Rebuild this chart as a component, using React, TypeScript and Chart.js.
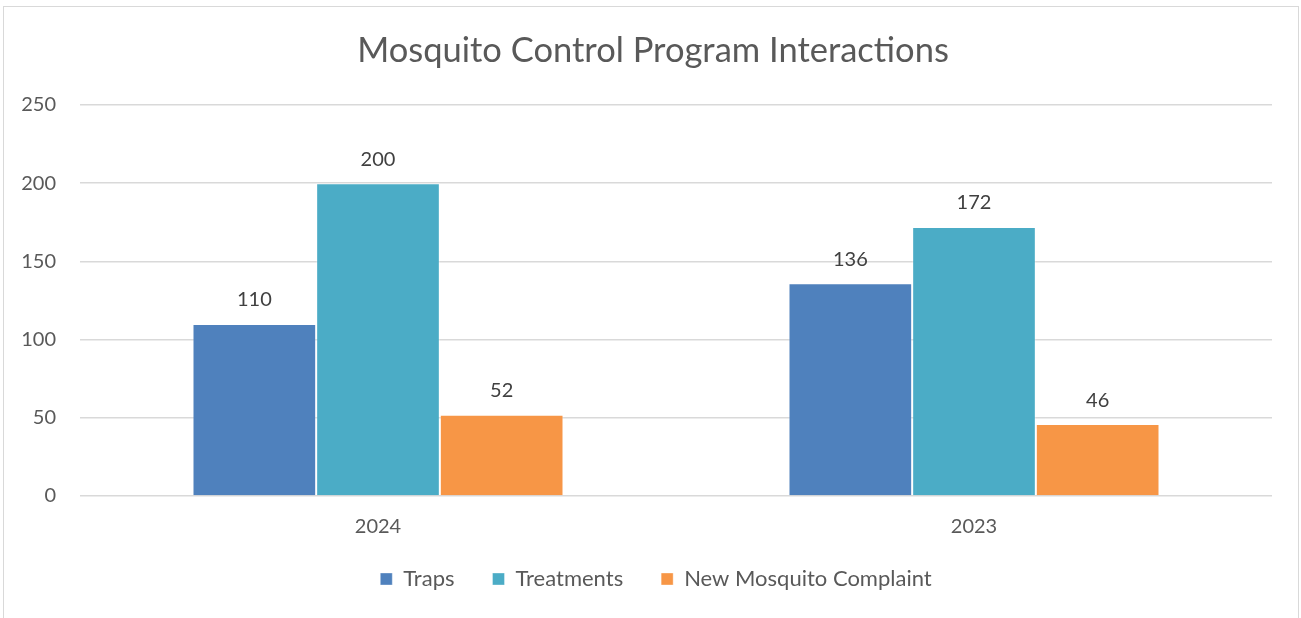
import React, { useEffect, useRef } from "react";
import { Chart, registerables } from "chart.js";

Chart.register(...registerables);

const title = "Mosquito Control Program Interactions";
const categories = ["2024", "2023"];
const seriesNames = ["Traps", "Treatments", "New Mosquito Complaint"];
const traps = [110, 136];
const treatments = [200, 172];
const complaints = [52, 46];
const yTicks = [0, 50, 100, 150, 200, 250];
const colors = ["#4F81BD", "#4BACC6", "#F79646"];

const FONT = "Lato, 'Open Sans', sans-serif";

const valueLabels = {
  id: "valueLabels",
  afterDatasetsDraw(chart: any) {
    const ctx = chart.ctx;
    ctx.save();
    ctx.font = `20px ${FONT}`;
    ctx.fillStyle = "#404040";
    ctx.textAlign = "center";
    ctx.textBaseline = "middle";
    chart.data.datasets.forEach((ds: any, i: number) => {
      const meta = chart.getDatasetMeta(i);
      meta.data.forEach((bar: any, j: number) => {
        ctx.fillText(String(ds.data[j]), bar.x, bar.y - 24);
      });
    });
    ctx.restore();
  },
};

// centre title and legend on the whole frame rather than the padded area
const recentre = {
  id: "recentre",
  afterLayout(chart: any) {
    if (chart.titleBlock) {
      chart.titleBlock.left += 17;
      chart.titleBlock.right += 17;
    }
    if (chart.legend) {
      chart.legend.left += 20;
      chart.legend.right += 20;
      chart.legend.top -= 18;
      chart.legend.bottom -= 18;
    }
  },
};

export default function App() {
  const ref = useRef<HTMLCanvasElement>(null);
  useEffect(() => {
    const seriesData = [traps, treatments, complaints];
    const chart = new Chart(ref.current!, {
      type: "bar",
      data: {
        labels: categories,
        datasets: seriesNames.map((name, i) => ({
          label: name,
          data: seriesData[i],
          backgroundColor: colors[i],
          borderColor: "rgba(255,255,255,0.35)",
          borderWidth: 1,
          categoryPercentage: 0.6225,
          barPercentage: 1,
        })),
      },
      options: {
        animation: false,
        responsive: false,
        maintainAspectRatio: false,
        layout: { padding: { left: 0, right: 29, top: 0, bottom: 0 } },
        plugins: {
          title: {
            display: true,
            text: title,
            color: "#595959",
            font: { family: FONT, size: 34.5, weight: "normal" },
            padding: { top: 30, bottom: 33.6 },
          },
          legend: {
            position: "bottom",
            labels: {
              color: "#595959",
              font: { family: FONT, size: 22 },
              boxWidth: 12,
              boxHeight: 12,
              padding: 38,
            },
          },
          tooltip: { enabled: false },
        },
        scales: {
          x: {
            grid: { display: false, drawTicks: false },
            border: { display: false },
            ticks: {
              color: "#595959",
              font: { family: FONT, size: 20 },
              padding: 19,
            },
            afterFit(scale: any) {
              scale.height = 52;
            },
          },
          y: {
            min: 0,
            max: 250,
            afterBuildTicks(scale: any) {
              scale.ticks = yTicks.map((v) => ({ value: v }));
            },
            grid: { color: "#d9d9d9", lineWidth: 1.5, drawTicks: false },
            border: { display: false },
            ticks: {
              color: "#595959",
              font: { family: FONT, size: 20 },
              padding: 24,
            },
            afterFit(scale: any) {
              scale.width = 80;
            },
          },
        },
      },
      plugins: [valueLabels, recentre],
    });
    return () => chart.destroy();
  }, []);

  return (
    <div style={{ position: "fixed", left: 0, top: 0, width: 1301, height: 618, background: "#fff" }}>
      <div
        style={{
          position: "absolute",
          left: 3,
          top: 6,
          width: 1296,
          height: 640,
          border: "1px solid #d9d9d9",
          boxSizing: "border-box",
        }}
      />
      <canvas ref={ref} width={1301} height={618} style={{ position: "absolute", left: 0, top: 0 }} />
    </div>
  );
}
